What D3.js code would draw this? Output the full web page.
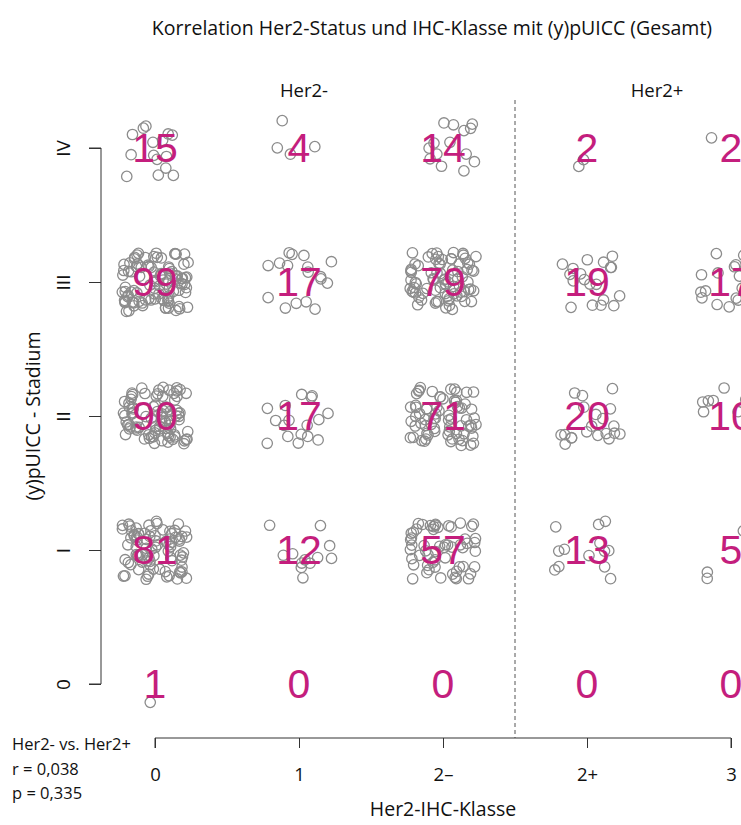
<!DOCTYPE html>
<html>
<head>
<meta charset="utf-8">
<script src="https://cdn.jsdelivr.net/npm/d3@7"></script>
<style>
  body { margin: 0; background: #fff; }
  svg { display: block; }
</style>
</head>
<body>
<div id="chart"></div>
<script>
// Categories
const ihcClasses = ["0", "1", "2\u2013", "2+", "3"];
const stages = ["0", "I", "II", "III", "IV"];
const stageLabels = ["0", "I", "II", "III", "IV"];

// Counts per IHC class, in stage order 0, I, II, III, IV
const countsIHC0 = [1, 81, 90, 99, 15];
const countsIHC1 = [0, 12, 17, 17, 4];
const countsIHC2neg = [0, 57, 71, 79, 14];
const countsIHC2pos = [0, 13, 20, 19, 2];
const countsIHC3 = [0, 5, 10, 17, 2];

const groupLabels = ["Her2-", "Her2+"];
const statLines = ["Her2- vs. Her2+", "r = 0,038", "p = 0,335"];

const width = 741;
const height = 825;
const font = "'Open Sans', sans-serif";

const svg = d3.select("#chart")
    .append("svg")
    .attr("width", width)
    .attr("height", height);

const x = d3.scalePoint().domain(ihcClasses).range([155, 731]);
const y = d3.scalePoint().domain(stages).range([684, 148]);

const allCounts = [countsIHC0, countsIHC1, countsIHC2neg, countsIHC2pos, countsIHC3];
const cells = [];
ihcClasses.forEach((c, i) => {
    stages.forEach((s, j) => {
        cells.push({ ihc: c, stage: s, n: allCounts[i][j] });
    });
});

// Jitter like R's jitter(): fixed seed so the picture is stable
const rnd = d3.randomUniform.source(d3.randomLcg(0.4217))(-1, 1);
const jx = 0.23 * x.step();
const jy = 0.22 * (y(stages[0]) - y(stages[1]));
const points = [];
cells.forEach(d => {
    for (let k = 0; k < d.n; k++) {
        points.push({ cx: x(d.ihc) + rnd() * jx, cy: y(d.stage) + rnd() * jy });
    }
});

// Title
svg.append("text")
    .attr("x", 432)
    .attr("y", 35)
    .attr("text-anchor", "middle")
    .style("font-family", font)
    .style("font-size", "19.5px")
    .style("fill", "#111")
    .text("Korrelation Her2-Status und IHC-Klasse mit (y)pUICC (Gesamt)");

// Group labels
svg.selectAll(".group")
    .data(groupLabels)
    .enter()
    .append("text")
    .attr("class", "group")
    .attr("x", (d, i) => i === 0 ? x(ihcClasses[1]) + 5 : 657)
    .attr("y", 97)
    .attr("text-anchor", "middle")
    .style("font-family", font)
    .style("font-size", "18.5px")
    .style("fill", "#111")
    .text(d => d);

// Dashed separator between Her2- and Her2+
const sepX = (x(ihcClasses[2]) + x(ihcClasses[3])) / 2;
svg.append("line")
    .attr("x1", sepX).attr("x2", sepX)
    .attr("y1", 100).attr("y2", 738)
    .attr("stroke", "#555")
    .attr("stroke-width", 1)
    .attr("stroke-dasharray", "4,3");

// Y axis
const yAxis = d3.axisLeft(y).tickSize(12).tickFormat((d, i) => stageLabels[i]);
const gy = svg.append("g")
    .attr("transform", "translate(101,0)")
    .call(yAxis);
gy.select(".domain").attr("d", `M-12,${y("IV")}H0V${y("0")}H-12`).attr("stroke", "#333");
gy.selectAll(".tick line").attr("stroke", "#333");
gy.selectAll(".tick text")
    .attr("x", -38)
    .attr("dy", 0)
    .attr("text-anchor", "middle")
    .attr("dominant-baseline", "central")
    .attr("transform", "rotate(-90,-38,0)")
    .style("font-family", font)
    .style("font-size", "19px")
    .style("fill", "#111");

svg.append("text")
    .attr("transform", "translate(40,416) rotate(-90)")
    .attr("text-anchor", "middle")
    .style("font-family", font)
    .style("font-size", "19.5px")
    .style("fill", "#111")
    .text("(y)pUICC - Stadium");

// X axis
const xAxis = d3.axisBottom(x).tickSize(10).tickPadding(20);
const gx = svg.append("g")
    .attr("transform", "translate(0,738)")
    .call(xAxis);
gx.select(".domain").attr("d", `M${x("0")},10V0H${x("3")}V10`).attr("stroke", "#333");
gx.selectAll(".tick line").attr("stroke", "#333");
gx.selectAll(".tick text")
    .style("font-family", font)
    .style("font-size", "18.5px")
    .style("fill", "#111");

svg.append("text")
    .attr("x", 443)
    .attr("y", 816)
    .attr("text-anchor", "middle")
    .style("font-family", font)
    .style("font-size", "19.5px")
    .style("fill", "#111")
    .text("Her2-IHC-Klasse");

// Statistics note
svg.selectAll(".stat")
    .data(statLines)
    .enter()
    .append("text")
    .attr("class", "stat")
    .attr("x", 12)
    .attr("y", (d, i) => 750 + i * 24.5)
    .style("font-family", font)
    .style("font-size", "16.5px")
    .style("fill", "#111")
    .text(d => d);

// Jittered points
svg.append("g")
    .selectAll("circle")
    .data(points)
    .enter()
    .append("circle")
    .attr("cx", d => d.cx)
    .attr("cy", d => d.cy)
    .attr("r", 5.2)
    .attr("fill", "none")
    .attr("stroke", "#8c8c8c")
    .attr("stroke-width", 1.3);

// Counts
svg.append("g")
    .selectAll("text")
    .data(cells)
    .enter()
    .append("text")
    .attr("x", d => x(d.ihc))
    .attr("y", d => y(d.stage))
    .attr("text-anchor", "middle")
    .attr("dominant-baseline", "central")
    .style("font-family", "'Liberation Sans', Arial, sans-serif")
    .style("font-size", "41px")
    .style("fill", "#c41e7d")
    .text(d => d.n);
</script>
</body>
</html>
